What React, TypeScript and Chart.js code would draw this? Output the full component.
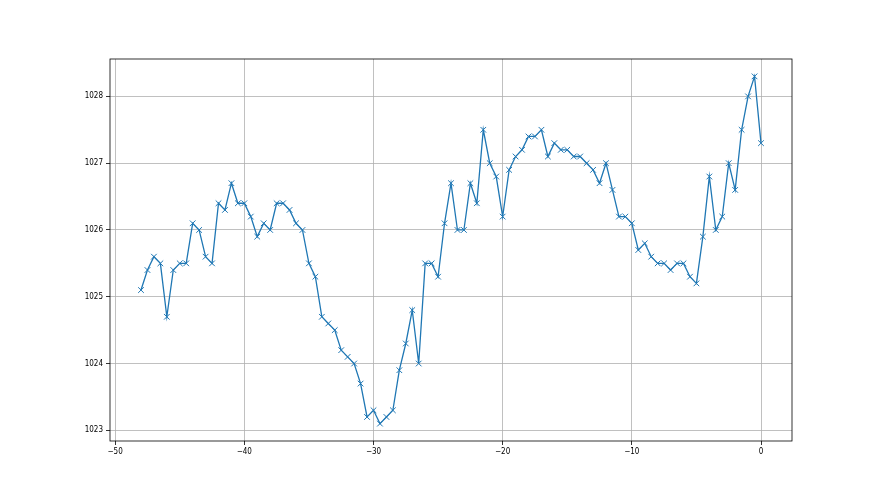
import React, { useEffect, useRef } from "react";
import { Chart, registerables } from "chart.js";

Chart.register(...registerables);

const xValues: number[] = [
  -48, -47.5, -47, -46.5, -46, -45.5, -45, -44.5, -44, -43.5, -43, -42.5, -42, -41.5, -41, -40.5,
  -40, -39.5, -39, -38.5, -38, -37.5, -37, -36.5, -36, -35.5, -35, -34.5, -34, -33.5, -33, -32.5,
  -32, -31.5, -31, -30.5, -30, -29.5, -29, -28.5, -28, -27.5, -27, -26.5, -26, -25.5, -25, -24.5,
  -24, -23.5, -23, -22.5, -22, -21.5, -21, -20.5, -20, -19.5, -19, -18.5, -18, -17.5, -17, -16.5,
  -16, -15.5, -15, -14.5, -14, -13.5, -13, -12.5, -12, -11.5, -11, -10.5, -10, -9.5, -9, -8.5,
  -8, -7.5, -7, -6.5, -6, -5.5, -5, -4.5, -4, -3.5, -3, -2.5, -2, -1.5, -1, -0.5, 0,
];

const pressure: number[] = [
  1025.1, 1025.4, 1025.6, 1025.5, 1024.7, 1025.4, 1025.5, 1025.5, 1026.1, 1026.0, 1025.6, 1025.5,
  1026.4, 1026.3, 1026.7, 1026.4, 1026.4, 1026.2, 1025.9, 1026.1, 1026.0, 1026.4, 1026.4, 1026.3,
  1026.1, 1026.0, 1025.5, 1025.3, 1024.7, 1024.6, 1024.5, 1024.2, 1024.1, 1024.0, 1023.7, 1023.2,
  1023.3, 1023.1, 1023.2, 1023.3, 1023.9, 1024.3, 1024.8, 1024.0, 1025.5, 1025.5, 1025.3, 1026.1,
  1026.7, 1026.0, 1026.0, 1026.7, 1026.4, 1027.5, 1027.0, 1026.8, 1026.2, 1026.9, 1027.1, 1027.2,
  1027.4, 1027.4, 1027.5, 1027.1, 1027.3, 1027.2, 1027.2, 1027.1, 1027.1, 1027.0, 1026.9, 1026.7,
  1027.0, 1026.6, 1026.2, 1026.2, 1026.1, 1025.7, 1025.8, 1025.6, 1025.5, 1025.5, 1025.4, 1025.5,
  1025.5, 1025.3, 1025.2, 1025.9, 1026.8, 1026.0, 1026.2, 1027.0, 1026.6, 1027.5, 1028.0, 1028.3,
  1027.3,
];

const xTicks: number[] = [-50, -40, -30, -20, -10, 0];
const yTicks: number[] = [1023, 1024, 1025, 1026, 1027, 1028];

const fmt = (v: number) => (v < 0 ? "\u2212" + Math.abs(v) : String(v));

const frame = {
  id: "frame",
  afterDraw(chart: any) {
    const { ctx, chartArea } = chart;
    ctx.save();
    ctx.strokeStyle = "#000";
    ctx.lineWidth = 0.8;
    ctx.strokeRect(chartArea.left, chartArea.top, chartArea.right - chartArea.left, chartArea.bottom - chartArea.top);
    ctx.restore();
  },
};

const tickFont = { family: "DejaVu Sans Condensed, DejaVu Sans", size: 8 };

export default function App() {
  const ref = useRef<HTMLCanvasElement | null>(null);

  useEffect(() => {
    document.body.style.margin = "0";
    const canvas = ref.current;
    if (!canvas) return;
    const chart = new Chart(canvas, {
      type: "line",
      data: {
        datasets: [
          {
            data: xValues.map((x, i) => ({ x, y: pressure[i] })),
            borderColor: "#1f77b4",
            backgroundColor: "#1f77b4",
            borderWidth: 1.3,
            pointStyle: "crossRot",
            pointRadius: 4,
            pointBorderWidth: 1,
            pointBorderColor: "#1f77b4",
            pointHoverRadius: 4,
            tension: 0,
            fill: false,
          },
        ],
      },
      options: {
        animation: false,
        responsive: false,
        events: [],
        layout: { padding: { top: 59, right: 88, left: 0, bottom: 0 } },
        plugins: { legend: { display: false }, tooltip: { enabled: false } },
        scales: {
          x: {
            type: "linear",
            min: -50.4,
            max: 2.4,
            afterBuildTicks: (scale: any) => {
              scale.ticks = xTicks.map((v) => ({ value: v }));
            },
            afterFit: (scale: any) => {
              scale.height = 54;
            },
            grid: { color: "#b0b0b0", lineWidth: 0.8, tickColor: "#000", tickLength: 4, drawTicks: true },
            border: { display: false },
            ticks: {
              color: "#000",
              font: tickFont,
              padding: 2,
              maxRotation: 0,
              autoSkip: false,
              callback: (v: any) => fmt(Number(v)),
            },
          },
          y: {
            type: "linear",
            min: 1022.84,
            max: 1028.56,
            afterBuildTicks: (scale: any) => {
              scale.ticks = yTicks.map((v) => ({ value: v }));
            },
            afterFit: (scale: any) => {
              scale.width = 110;
            },
            grid: { color: "#b0b0b0", lineWidth: 0.8, tickColor: "#000", tickLength: 4, drawTicks: true },
            border: { display: false },
            ticks: {
              color: "#000",
              font: tickFont,
              padding: 3,
              autoSkip: false,
              callback: (v: any) => String(v),
            },
          },
        },
      },
      plugins: [frame],
    });
    return () => chart.destroy();
  }, []);

  return (
    <div style={{ position: "absolute", left: 0, top: 0, width: 880, height: 495, background: "#fff" }}>
      <canvas ref={ref} width={880} height={495} style={{ width: 880, height: 495 }} />
    </div>
  );
}
